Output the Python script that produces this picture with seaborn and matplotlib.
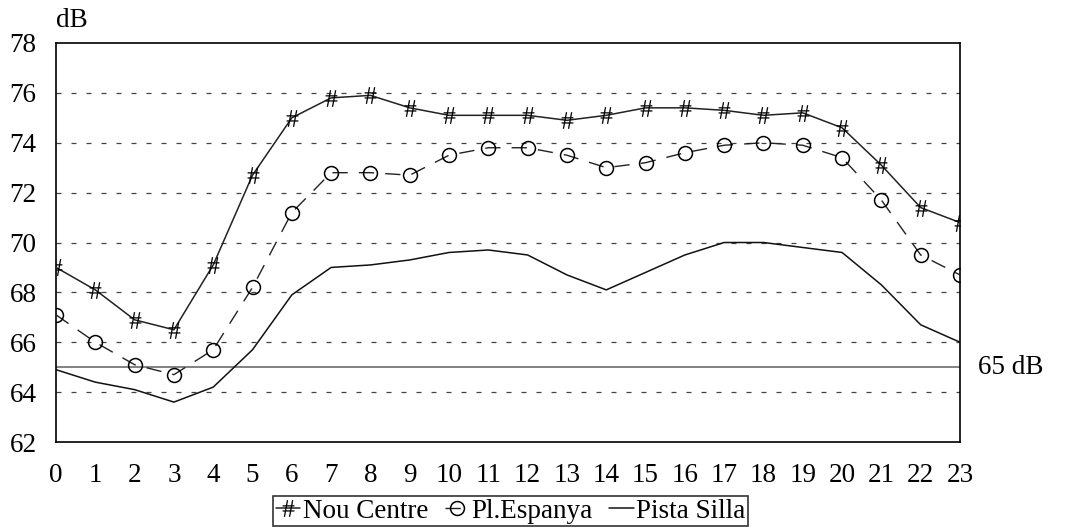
import matplotlib
matplotlib.use("Agg")
import matplotlib.pyplot as plt
import seaborn as sns
import pandas as pd

hours = list(range(24))
nou_centre = [69.0, 68.1, 66.9, 66.5, 69.1, 72.7, 75.0, 75.8, 75.9, 75.4, 75.1, 75.1,
              75.1, 74.9, 75.1, 75.4, 75.4, 75.3, 75.1, 75.2, 74.6, 73.1, 71.4, 70.8]
pl_espanya = [67.1, 66.0, 65.1, 64.7, 65.7, 68.2, 71.2, 72.8, 72.8, 72.7, 73.5, 73.8,
              73.8, 73.5, 73.0, 73.2, 73.6, 73.9, 74.0, 73.9, 73.4, 71.7, 69.5, 68.7]
pista_silla = [64.9, 64.4, 64.1, 63.6, 64.2, 65.7, 67.9, 69.0, 69.1, 69.3, 69.6, 69.7,
               69.5, 68.7, 68.1, 68.8, 69.5, 70.0, 70.0, 69.8, 69.6, 68.3, 66.7, 66.0]
threshold = 65
yticks = [62, 64, 66, 68, 70, 72, 74, 76, 78]

sns.set_style("white")
plt.rcParams['font.family'] = ['Liberation Serif', 'DejaVu Serif']
plt.rcParams['text.color'] = 'black'
plt.rcParams['mathtext.fontset'] = 'custom'
plt.rcParams['mathtext.rm'] = 'Liberation Serif'
plt.rcParams['mathtext.it'] = 'Liberation Serif:italic'

fig = plt.figure(figsize=(10.68, 5.32), dpi=100)
ax = fig.add_axes([56/1068, 1 - 442/532, (960-56)/1068, (442-43)/532])

df = pd.DataFrame({"hour": hours, "Nou Centre": nou_centre,
                   "Pl.Espanya": pl_espanya, "Pista Silla": pista_silla})

ax.axhline(threshold, color="#777777", lw=1.3, zorder=1)

sns.lineplot(data=df, x="hour", y="Nou Centre", ax=ax, color="#222222", lw=1.1,
             marker="$\\mathit{\\#}$", markersize=12, markeredgewidth=0,
             markerfacecolor="black", markeredgecolor="black", label="Nou Centre", zorder=3)
sns.lineplot(data=df, x="hour", y="Pl.Espanya", ax=ax, color="#222222", lw=1.0,
             dashes=(11, 8), marker="o", markersize=10, markerfacecolor="none",
             markeredgecolor="black", markeredgewidth=1.1, label="Pl.Espanya", zorder=3)
sns.lineplot(data=df, x="hour", y="Pista Silla", ax=ax, color="#111111", lw=1.1,
             label="Pista Silla", zorder=3)

ax.set_xlim(0, 23)
ax.set_ylim(62, 78)
ax.set_xticks(hours)
ax.set_yticks(yticks)
ax.set_xlabel("")
ax.set_ylabel("")
ax.tick_params(axis="both", labelsize=19.5, length=0, colors="black")
ax.tick_params(axis="x", pad=15)
ax.tick_params(axis="y", pad=14)
for y in yticks[1:-1]:
    ax.axhline(y, color="#444444", lw=0.9, dashes=(4, 8), zorder=0)
for s in ax.spines.values():
    s.set_color("black")
    s.set_linewidth(1.2)

ax.text(0.0, 1.025, "dB", transform=ax.transAxes, fontsize=19.5, ha="left", va="bottom")
ax.text(1.02, threshold, "65 dB", transform=ax.get_yaxis_transform(), fontsize=19.5,
        ha="left", va="center")

leg = ax.legend(loc="upper center", bbox_to_anchor=(0.503, -0.135), ncol=3, fontsize=19.5,
                frameon=True, fancybox=False, edgecolor="black", handlelength=0.9,
                handletextpad=0.1, columnspacing=0.6, borderpad=0.1, borderaxespad=0)
leg.get_frame().set_linewidth(1.2)

fig.savefig("out.png", dpi=100)
